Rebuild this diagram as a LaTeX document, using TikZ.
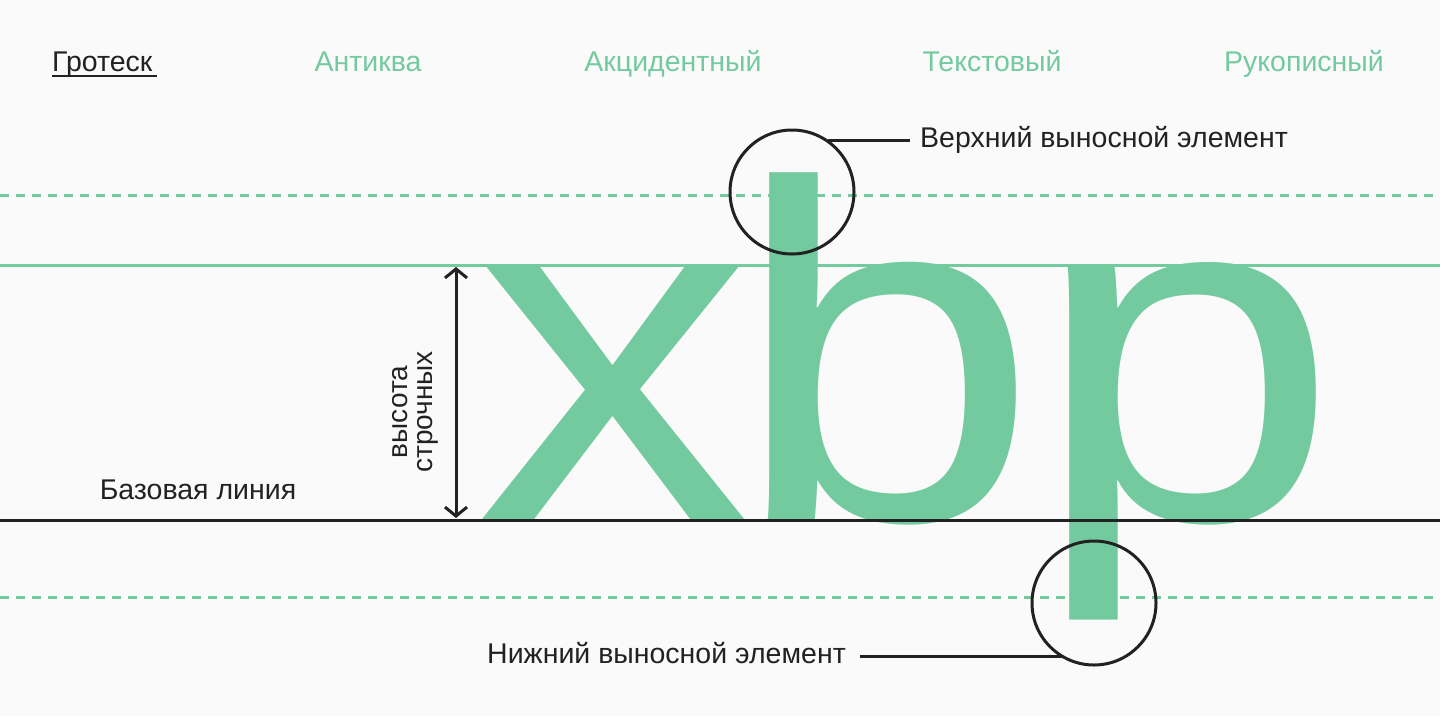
\documentclass[tikz,border=0pt]{standalone}
\usetikzlibrary{arrows.meta}
\usepackage{fontspec}
\setmainfont{Liberation Sans}
\definecolor{gr}{HTML}{74CA9F}
\definecolor{ink}{HTML}{222222}
\begin{document}
\begin{tikzpicture}[x=1pt,y=-1pt,
  lab/.style={font=\fontsize{28.5}{30}\selectfont, inner sep=0pt},
  menu/.style={lab, text=gr, anchor=base},
  big/.style={font=\fontsize{480}{480}\selectfont, text=gr, inner sep=0pt, anchor=base west, xscale=1.15, transform shape}]
\fill[white!98!black] (0,0) rectangle (1440,716);
\useasboundingbox (0,0) rectangle (1440,716);
\node[big] (lx) at (475,520) {x};
\node[big] (lb) at (732,520) {b};
\node[big] (lp) at (1032,520) {p};
\draw[gr, line width=3pt, dash pattern=on 9pt off 7pt] (0,195) -- (1440,195);
\draw[gr, line width=3pt, dash pattern=on 9pt off 7pt] (0,597) -- (1440,597);
\draw[gr, line width=3pt] (0,265) -- (1440,265);
\draw[ink, line width=3pt] (0,520) -- (1440,520);
\node[lab, anchor=base west, text=ink] (g) at (52,71) {Гротеск};
\draw[ink, line width=1.5pt] (52,76) -- (157,76);
\node[menu] (m1) at (368,71) {Антиква};
\node[menu] (m2) at (673,71) {Акцидентный};
\node[menu] (m3) at (992,71) {Текстовый};
\node[menu] (m4) at (1304,71) {Рукописный};
\node[circle, draw=ink, line width=3pt, minimum size=124pt] (c1) at (792,192) {};
\node[circle, draw=ink, line width=3pt, minimum size=124pt] (c2) at (1094,603) {};
\node[lab, anchor=west, text=ink] (t1) at (920,140) {Верхний выносной элемент};
\node[lab, anchor=east, text=ink] (t2) at (846,653) {Нижний выносной элемент};
\coordinate (a1) at (828,140);
\coordinate (a2) at (1062,656);
\draw[ink, line width=3pt] (a1) -- (910,140);
\draw[ink, line width=3pt] (860,656) -- (a2);
\coordinate (v1) at (456,267);
\coordinate (v2) at (456,518);
\draw[ink, line width=3pt, {Straight Barb[length=9pt,width=22pt]}-{Straight Barb[length=9pt,width=22pt]}] (v1) -- (v2);
\node[lab, rotate=90, align=center, text=ink, font=\fontsize{28}{25}\selectfont] (h) at (415,412) {высота\\строчных};
\node[lab, text=ink] (bl) at (198,490) {Базовая линия};
\end{tikzpicture}
\end{document}
